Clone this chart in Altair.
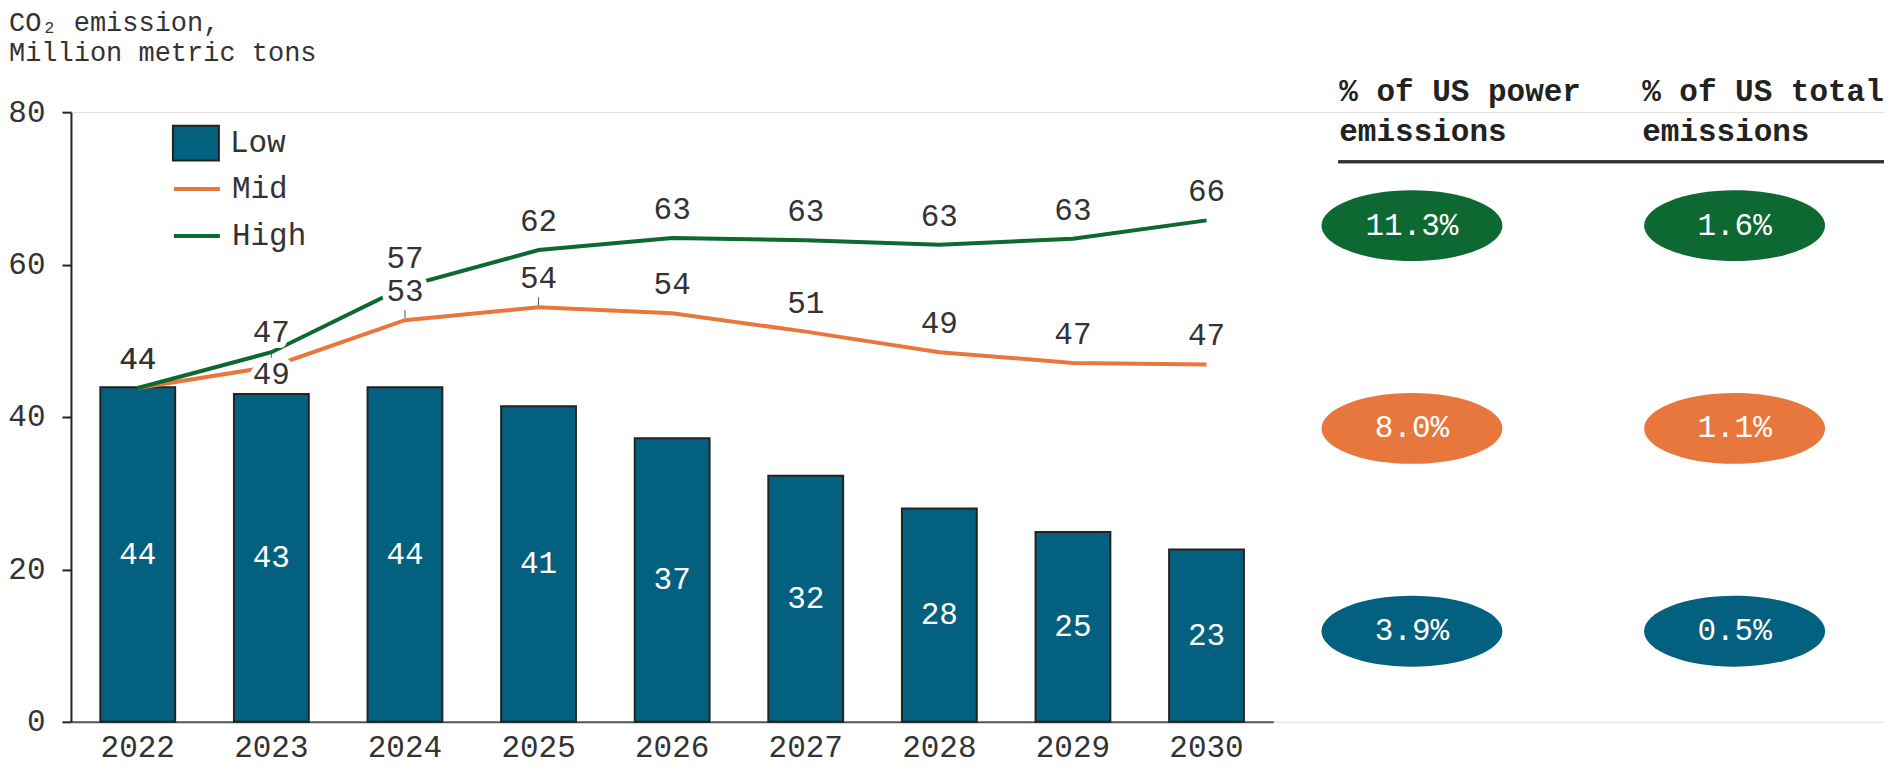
import altair as alt
import pandas as pd

# ---------------- data ----------------
years = ["2022", "2023", "2024", "2025", "2026", "2027", "2028", "2029", "2030"]
low_values = [43.9, 43.0, 43.9, 41.4, 37.2, 32.3, 28.0, 24.9, 22.6]
low_labels = ["44", "43", "44", "41", "37", "32", "28", "25", "23"]
mid_values = [43.8, 46.6, 52.7, 54.4, 53.6, 51.2, 48.5, 47.1, 46.9]
mid_labels = ["44", "49", "53", "54", "54", "51", "49", "47", "47"]
high_values = [43.8, 48.5, 57.1, 61.9, 63.5, 63.2, 62.6, 63.4, 65.8]
high_labels = ["44", "47", "57", "62", "63", "63", "63", "63", "66"]

scenarios = ["High", "Mid", "Low"]
share_power = ["11.3%", "8.0%", "3.9%"]
share_total = ["1.6%", "1.1%", "0.5%"]
header_power = ["% of US power", "emissions"]
header_total = ["% of US total", "emissions"]
title_lines = ["CO₂ emission,", "Million metric tons"]

# ---------------- style ----------------
FONT = "Liberation Mono"
BLUE = "#04607f"
ORANGE = "#e8773e"
GREEN = "#0d6831"
INK = "#333333"
FS = 31

bars_df = pd.DataFrame({"year": years, "value": low_values, "label": low_labels, "series": "Low"})
lines_df = pd.DataFrame({
    "year": years * 2,
    "value": mid_values + high_values,
    "label": mid_labels + high_labels,
    "series": ["Mid"] * len(years) + ["High"] * len(years),
})
table_df = pd.DataFrame({
    "row": scenarios * 2,
    "col": ["power"] * 3 + ["total"] * 3,
    "text": share_power + share_total,
})
header_df = pd.DataFrame({"col": ["power", "total"], "text": [header_power, header_total]})

yscale = alt.Scale(domain=[0, 80], nice=False)
xenc = alt.X(
    "year:N", sort=years, title=None,
    scale=alt.Scale(range=[0, 1203], paddingInner=0.44, paddingOuter=0.22),
    axis=alt.Axis(labelAngle=0, ticks=False, domainColor="#555555", domainWidth=2,
                  labelFont=FONT, labelFontSize=FS, labelColor=INK, labelPadding=11),
)
yenc = alt.Y(
    "value:Q", title=None, scale=yscale,
    axis=alt.Axis(values=[0, 20, 40, 60, 80], grid=False, tickSize=9, tickWidth=2,
                  tickColor="#222222", domainColor="#222222", domainWidth=2,
                  labelPadding=17, labelFont=FONT, labelFontSize=FS, labelColor=INK),
)

bars = alt.Chart(bars_df).mark_bar(stroke="#222222", strokeWidth=2).encode(
    x=xenc, y=yenc,
    fill=alt.Fill("series:N", scale=alt.Scale(domain=["Low"], range=[BLUE]),
                  legend=alt.Legend(title=None, orient="none", legendX=101, legendY=7,
                                    symbolType="M-1,-0.76H1V0.76H-1Z", symbolSize=2116,
                                    symbolStrokeColor="#222222", symbolStrokeWidth=2,
                                    labelFont=FONT, labelFontSize=FS, labelColor=INK,
                                    labelOffset=10, padding=0)),
)

lines = alt.Chart(lines_df).mark_line(strokeWidth=4).encode(
    x=xenc, y=yenc,
    stroke=alt.Stroke("series:N", scale=alt.Scale(domain=["Mid", "High"], range=[ORANGE, GREEN]),
                      legend=alt.Legend(title=None, orient="none", legendX=101, legendY=52,
                                        symbolType="stroke", symbolSize=2116, symbolStrokeWidth=4,
                                        rowPadding=7, labelFont=FONT, labelFontSize=FS,
                                        labelColor=INK, labelOffset=10, padding=0)),
)

mid_only = alt.Chart(lines_df).transform_filter("datum.series === 'Mid'")
leaders_a = mid_only.transform_filter("datum.year === '2024' || datum.year === '2025'").mark_rule(
    color="#555555", strokeWidth=1, yOffset=-10, y2Offset=-2).encode(x=xenc, y=yenc, y2="value:Q")
leaders_b = mid_only.transform_filter("datum.year === '2023'").mark_rule(
    color="#555555", strokeWidth=1, yOffset=-14, y2Offset=-9).encode(x=xenc, y=yenc, y2="value:Q")


def line_labels(filt, dy):
    base = alt.Chart(lines_df).transform_filter(filt)
    halo = base.mark_text(font=FONT, fontSize=FS, dy=dy, color="white", stroke="white",
                          strokeWidth=12, strokeJoin="round").encode(x=xenc, y=yenc, text="label:N")
    txt = base.mark_text(font=FONT, fontSize=FS, dy=dy, color=INK).encode(x=xenc, y=yenc, text="label:N")
    return halo, txt


h1, t1 = line_labels("datum.year !== '2023'", -28)
h2, t2 = line_labels("datum.year === '2023' && datum.series === 'High'", -19)
h3, t3 = line_labels("datum.year === '2023' && datum.series === 'Mid'", 8)

bar_text = alt.Chart(bars_df).transform_calculate(mid="datum.value / 2").mark_text(
    font=FONT, fontSize=FS, color="white").encode(
    x=xenc, y=alt.Y("mid:Q", scale=yscale, title=None), text="label:N")

left = alt.layer(bars, lines, leaders_a, leaders_b, h1, h2, h3, t1, t2, t3, bar_text)

# ---------------- right-hand table ----------------
ELLIPSE = ("M-1,0C-1,-0.2165,-0.5523,-0.392,0,-0.392C0.5523,-0.392,1,-0.2165,1,0"
           "C1,0.2165,0.5523,0.392,0,0.392C-0.5523,0.392,-1,0.2165,-1,0Z")
tx = alt.X("col:N", scale=alt.Scale(type="point", domain=["power", "total"], range=[1341.7, 1664.5], padding=0),
           axis=None, title=None)
ty = alt.Y("row:N", scale=alt.Scale(type="point", domain=scenarios, range=[113.5, 519.3], padding=0),
           axis=None, title=None)

ellipses = alt.Chart(table_df).mark_point(shape=ELLIPSE, size=32761, filled=True, opacity=1, strokeWidth=0).encode(
    x=tx, y=ty,
    fill=alt.Fill("row:N", scale=alt.Scale(domain=scenarios, range=[GREEN, ORANGE, BLUE]), legend=None),
)
cell_text = alt.Chart(table_df).mark_text(font=FONT, fontSize=FS, color="white").encode(x=tx, y=ty, text="text:N")

hdr_base = alt.Chart(header_df)
hdr1 = hdr_base.transform_filter("datum.col === 'power'").mark_text(
    font=FONT, fontSize=31, fontWeight="bold", color="#222222", align="left", baseline="middle",
    lineHeight=39.4, dx=-72.7).encode(x=tx, y=alt.value(-19.7), text="text")
hdr2 = hdr_base.transform_filter("datum.col === 'total'").mark_text(
    font=FONT, fontSize=31, fontWeight="bold", color="#222222", align="left", baseline="middle",
    lineHeight=39.4, dx=-92.5).encode(x=tx, y=alt.value(-19.7), text="text")
hdr_rule = hdr_base.mark_rule(color="#333333", strokeWidth=3).encode(
    x=alt.value(1268), x2=alt.value(1814), y=alt.value(49.7))

right = alt.layer(ellipses, cell_text, hdr1, hdr2, hdr_rule)

chart = alt.layer(left, right).resolve_scale(
    x="independent", y="independent", fill="independent"
).properties(
    width=1814, height=610,
    autosize=alt.AutoSizeParams(type="none"),
    padding={"left": 63, "top": 104, "right": 0, "bottom": 50},
    title=alt.TitleParams(title_lines, anchor="start", frame="group", dx=-62, dy=23, fontSize=27,
                          font=FONT, fontWeight="normal", color=INK, lineHeight=30, offset=32),
).configure_view(stroke=None).configure(background="white")

chart.save("out.html", embed_options={"renderer": "svg", "actions": False})
